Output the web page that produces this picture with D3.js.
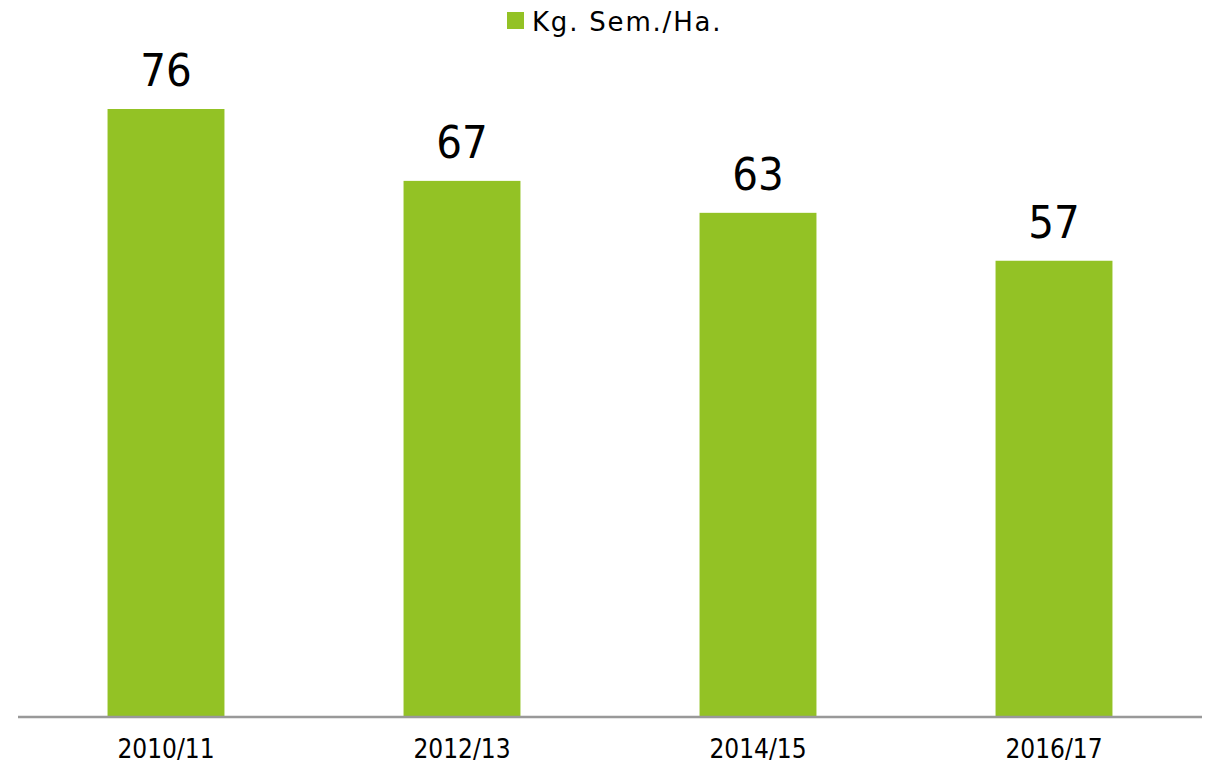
<!DOCTYPE html>
<html>
<head>
  <script src="https://d3js.org/d3.v7.min.js"></script>
  <meta charset="utf-8">
  <title>Kg. Sem./Ha.</title>
  <style>
    body {margin: 0; background: #fff;
          font-family: "DejaVu Sans Condensed", "DejaVu Sans", sans-serif;}
    .value {font-size: 45px; fill: #000;}
    .tick text {font-size: 26px; fill: #000;
                font-family: "DejaVu Sans Condensed", "DejaVu Sans", sans-serif;}
    .legend-text {font-size: 26px; letter-spacing: 1.8px;
                  font-family: "DejaVu Sans", sans-serif;}
  </style>
</head>
<body>
  <div id="chart"></div>
  <script>
    /* Chart data */
    const seasons = ["2010/11", "2012/13", "2014/15", "2016/17"];
    const kgSemHa = [76, 67, 63, 57];
    const seriesName = "Kg. Sem./Ha.";

    const width = 1218, height = 768;
    const green = "#93c225";

    const svg = d3.select("#chart")
                  .append("svg")
                  .attr("width", width)
                  .attr("height", height);

    /* Scales */
    const x = d3.scaleBand()
                .domain(seasons)
                .range([18, 1202])
                .paddingInner(0.605)
                .paddingOuter(0.3025);

    const y = d3.scaleLinear()
                .domain([0, 76])
                .range([716, 109]);

    /* Bars */
    svg.selectAll(".bar")
       .data(seasons)
       .enter()
       .append("rect")
       .attr("class", "bar")
       .attr("x", d => x(d))
       .attr("y", (d, i) => y(kgSemHa[i]))
       .attr("width", x.bandwidth())
       .attr("height", (d, i) => y(0) - y(kgSemHa[i]))
       .attr("fill", green);

    /* Value labels */
    svg.selectAll(".value")
       .data(seasons)
       .enter()
       .append("text")
       .attr("class", "value")
       .attr("x", d => x(d) + x.bandwidth() / 2)
       .attr("y", (d, i) => y(kgSemHa[i]) - 23)
       .attr("text-anchor", "middle")
       .text((d, i) => kgSemHa[i]);

    /* x axis */
    const xAxis = d3.axisBottom(x).tickSize(0).tickPadding(24);
    const gx = svg.append("g")
                  .attr("transform", `translate(0,${y(0)})`)
                  .call(xAxis);
    gx.attr("font-family", null).attr("font-size", null);
    gx.select(".domain").attr("stroke", "#999").attr("stroke-width", 2.5)
      .attr("d", "M18,1H1202");

    /* Legend */
    const legend = svg.append("g");
    legend.append("rect")
          .attr("x", 507).attr("y", 12)
          .attr("width", 17).attr("height", 17)
          .attr("fill", green);
    legend.append("text")
          .attr("class", "legend-text")
          .attr("x", 532).attr("y", 31)
          .text(seriesName);
  </script>
</body>
</html>
